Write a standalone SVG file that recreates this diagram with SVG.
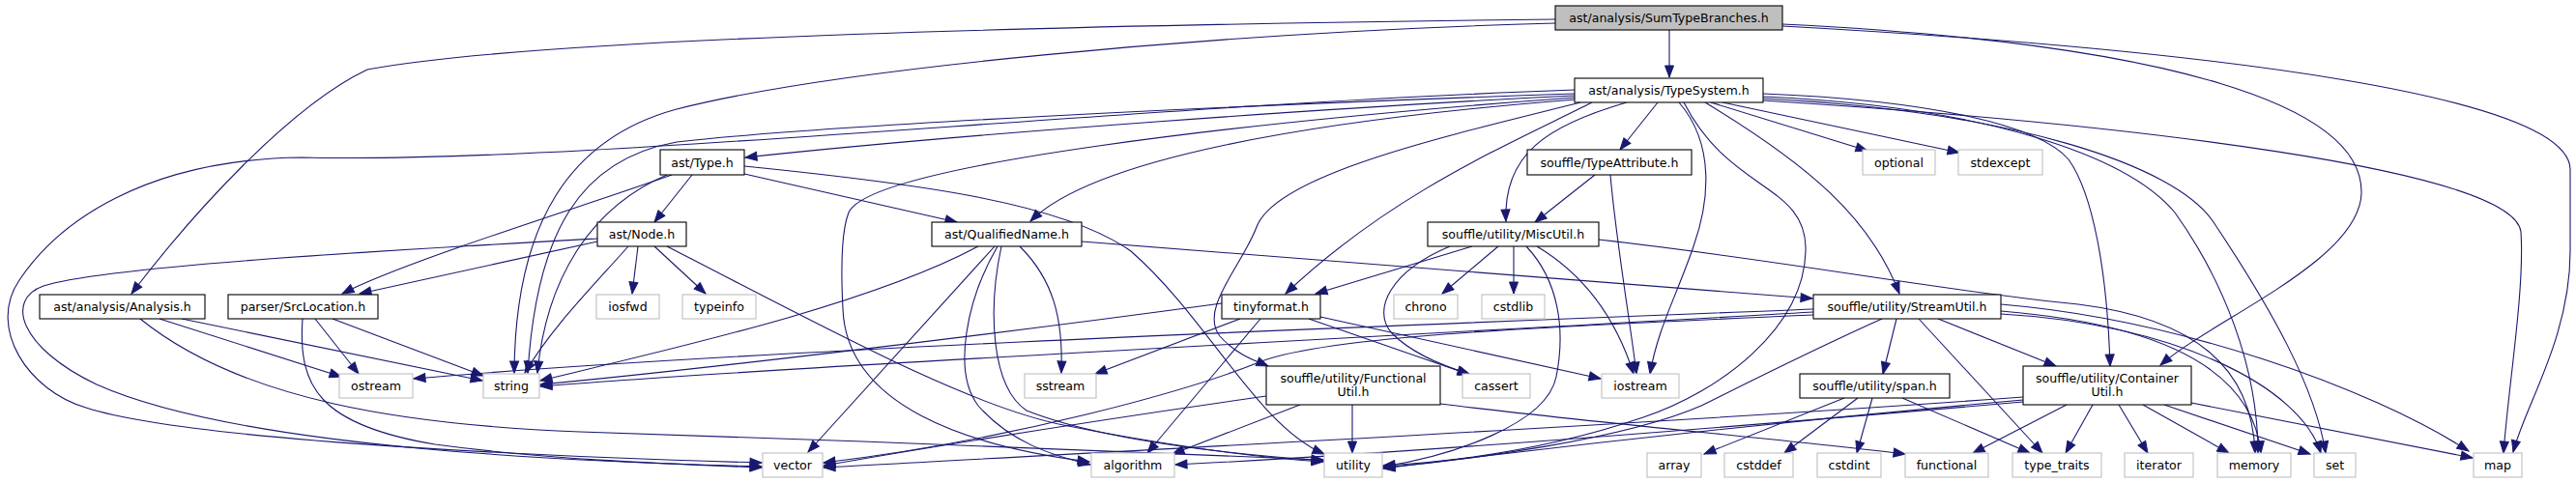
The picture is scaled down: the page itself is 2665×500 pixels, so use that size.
<svg xmlns="http://www.w3.org/2000/svg" width="2665" height="500" viewBox="0 0 2665 500">
<style>
.e{fill:none;stroke:#191970;stroke-width:1.1;marker-end:url(#a)}
.n{fill:#fff;stroke:#000;stroke-width:1.1}
.g{fill:#fff;stroke:#bfbfbf;stroke-width:1.1}
.m{fill:#bfbfbf;stroke:#000;stroke-width:1.1}
text{font-family:"DejaVu Sans","Liberation Sans",sans-serif;font-size:12.6px;text-anchor:middle;fill:#000}
</style>
<defs>
<marker id="a" markerUnits="userSpaceOnUse" markerWidth="14" markerHeight="10" refX="12" refY="5" orient="auto" overflow="visible">
<path d="M0,0.5 L12,5 L0,9.5 z" fill="#191970" stroke="#191970" stroke-width="1"/>
</marker>
</defs>
<rect width="2665" height="500" fill="#fff"/>
<g id="connectors">
<path class="e" d="M1727,31 L1727,80"/>
<path class="e" d="M1609,20 C1100,26 550,40 380,72 C300,110 200,220 136,304"/>
<path class="e" d="M1609,24 C1250,34 860,72 700,113 C590,143 533,230 532,386"/>
<path class="e" d="M1844,25 C2250,45 2445,110 2443,200 C2441,270 2290,330 2235,378"/>
<path class="e" d="M1844,27 C2300,52 2657,100 2659,175 L2659,260 C2659,350 2612,420 2600,468"/>
<path class="e" d="M1629,93 C1150,110 600,170 312,163 C150,165 60,230 20,290 C-14,340 30,405 89,422 C200,458 600,474 788,479"/>
<path class="e" d="M618,247 C420,258 110,275 45,296 C5,310 20,360 100,398 C250,465 600,478 788,483"/>
<path class="e" d="M1629,99 C1400,110 1000,138 771,163"/>
<path class="e" d="M1630,103 C1350,125 1130,165 1066,229"/>
<path class="e" d="M1629,97 C1250,110 850,130 700,147 C600,165 555,240 546,386"/>
<path class="e" d="M1629,101 C1300,125 900,170 878,220 C868,245 871,300 872,320 C876,420 1000,462 1127,478"/>
<path class="e" d="M1635,106 C1500,140 1320,180 1300,235 C1285,275 1240,320 1262,348 C1280,368 1300,374 1312,379"/>
<path class="e" d="M1647,106 C1560,150 1440,200 1330,304"/>
<path class="e" d="M1683,106 C1600,130 1555,160 1558,229"/>
<path class="e" d="M1715,106 L1676,155"/>
<path class="e" d="M1737,106 C1775,150 1768,210 1752,255 C1735,305 1715,340 1707,387"/>
<path class="e" d="M1742,106 C1790,200 1870,190 1868,260 C1866,340 1780,405 1700,432 C1600,466 1500,478 1431,482"/>
<path class="e" d="M1764,106 C1870,170 1935,225 1965,304"/>
<path class="e" d="M1770,106 L1932,156"/>
<path class="e" d="M1782,106 L2027,158"/>
<path class="e" d="M1824,97 C2000,104 2110,130 2140,165 C2165,200 2180,280 2183,379"/>
<path class="e" d="M1824,100 C2050,110 2200,160 2250,220 C2300,290 2336,380 2336,469"/>
<path class="e" d="M1824,102 C2080,115 2250,170 2290,230 C2350,320 2395,400 2406,469"/>
<path class="e" d="M1824,104 C2200,128 2600,175 2608,240 C2612,300 2595,400 2590,469"/>
<path class="e" d="M716,181 L677,230"/>
<path class="e" d="M770,180 L990,230"/>
<path class="e" d="M695,181 C600,215 420,270 354,304"/>
<path class="e" d="M690,181 C610,215 565,290 556,386"/>
<path class="e" d="M770,172 C950,190 1100,210 1170,260 C1250,330 1300,440 1370,470"/>
<path class="e" d="M618,250 L372,304"/>
<path class="e" d="M660,255 L654,304"/>
<path class="e" d="M677,255 L730,304"/>
<path class="e" d="M650,255 C610,300 570,340 543,386"/>
<path class="e" d="M690,255 C850,337 1000,420 1100,440 C1200,460 1300,474 1369,478"/>
<path class="e" d="M1012,255 C900,315 700,360 559,394"/>
<path class="e" d="M1029,255 L836,468"/>
<path class="e" d="M1032,255 C1000,310 985,385 1012,420 C1045,458 1090,472 1128,481"/>
<path class="e" d="M1036,255 C1022,320 1025,400 1062,425 C1150,460 1300,472 1369,477"/>
<path class="e" d="M1055,255 C1090,290 1100,330 1098,386"/>
<path class="e" d="M1119,250 L1875,309"/>
<path class="e" d="M1523,255 L1361,304"/>
<path class="e" d="M1500,255 C1440,280 1418,320 1440,345 C1460,365 1490,378 1520,387"/>
<path class="e" d="M1550,255 L1492,304"/>
<path class="e" d="M1566,255 L1566,304"/>
<path class="e" d="M1579,255 C1612,290 1620,340 1610,390 C1600,440 1500,472 1431,483"/>
<path class="e" d="M1590,255 C1640,285 1672,330 1690,387"/>
<path class="e" d="M1654,248 C1850,270 2000,300 2150,315 C2270,330 2330,380 2333,469"/>
<path class="e" d="M1650,181 L1588,230"/>
<path class="e" d="M1666,181 C1672,250 1686,330 1693,387"/>
<path class="e" d="M165,330 L353,390"/>
<path class="e" d="M188,330 L499,394"/>
<path class="e" d="M145,330 C250,415 420,440 600,447 C850,455 1200,468 1369,476"/>
<path class="e" d="M326,330 L371,387"/>
<path class="e" d="M344,330 L500,389"/>
<path class="e" d="M313,330 C308,400 330,440 450,460 C560,475 680,480 788,484"/>
<path class="e" d="M1264,314 C1000,350 700,385 559,398"/>
<path class="e" d="M1283,330 L1133,387"/>
<path class="e" d="M1304,330 L1187,469"/>
<path class="e" d="M1354,330 L1521,388"/>
<path class="e" d="M1366,328 L1656,392"/>
<path class="e" d="M1876,320 C1500,335 800,360 428,392"/>
<path class="e" d="M1876,323 C1500,345 800,380 559,400"/>
<path class="e" d="M1876,326 C1550,340 1360,350 1300,376 C1230,404 1050,455 852,479"/>
<path class="e" d="M1947,330 C1880,360 1830,385 1760,420 C1680,455 1520,476 1431,484"/>
<path class="e" d="M1962,330 L1948,387"/>
<path class="e" d="M1985,330 L2113,469"/>
<path class="e" d="M2005,330 L2127,379"/>
<path class="e" d="M2070,322 C2230,335 2330,380 2339,469"/>
<path class="e" d="M2070,325 C2250,335 2380,400 2401,469"/>
<path class="e" d="M2070,315 C2250,330 2450,400 2554,467"/>
<path class="e" d="M1908,412 L1763,470"/>
<path class="e" d="M1922,412 L1846,469"/>
<path class="e" d="M1937,412 L1921,469"/>
<path class="e" d="M1968,412 L2100,469"/>
<path class="e" d="M1399,419 L1399,469"/>
<path class="e" d="M1490,418 C1650,438 1850,455 1971,470"/>
<path class="e" d="M1310,410 C1100,440 950,465 852,482"/>
<path class="e" d="M1345,419 L1213,470"/>
<path class="e" d="M2138,419 L2041,469"/>
<path class="e" d="M2165,419 L2137,469"/>
<path class="e" d="M2192,419 L2222,469"/>
<path class="e" d="M2217,419 L2306,469"/>
<path class="e" d="M2239,419 L2390,470"/>
<path class="e" d="M2267,417 L2558,474"/>
<path class="e" d="M2093,411 C1700,440 1100,470 852,484"/>
<path class="e" d="M2093,414 C1800,440 1550,470 1431,485"/>
<path class="e" d="M2093,416 C1700,450 1400,472 1216,481"/>
</g>
<g id="n_SumTypeBranches"><rect class="m" x="1609" y="6" width="235" height="25"/><text x="1726.5" y="23">ast/analysis/SumTypeBranches.h</text></g>
<g id="n_TypeSystem"><rect class="n" x="1629" y="81" width="195" height="25"/><text x="1726.5" y="98">ast/analysis/TypeSystem.h</text></g>
<g id="n_Type"><rect class="n" x="683" y="155" width="87" height="26"/><text x="726.5" y="172.5">ast/Type.h</text></g>
<g id="n_TypeAttribute"><rect class="n" x="1580" y="155" width="170" height="26"/><text x="1665" y="172.5">souffle/TypeAttribute.h</text></g>
<g id="n_optional"><rect class="g" x="1927" y="155" width="75" height="26"/><text x="1964.5" y="172.5">optional</text></g>
<g id="n_stdexcept"><rect class="g" x="2026" y="155" width="87" height="26"/><text x="2069.5" y="172.5">stdexcept</text></g>
<g id="n_Node"><rect class="n" x="618" y="230" width="92" height="25"/><text x="664" y="247">ast/Node.h</text></g>
<g id="n_QualifiedName"><rect class="n" x="964" y="230" width="155" height="25"/><text x="1041.5" y="247">ast/QualifiedName.h</text></g>
<g id="n_MiscUtil"><rect class="n" x="1477" y="230" width="177" height="25"/><text x="1565.5" y="247">souffle/utility/MiscUtil.h</text></g>
<g id="n_Analysis"><rect class="n" x="41" y="305" width="171" height="25"/><text x="126.5" y="322">ast/analysis/Analysis.h</text></g>
<g id="n_SrcLocation"><rect class="n" x="236" y="305" width="155" height="25"/><text x="313.5" y="322">parser/SrcLocation.h</text></g>
<g id="n_iosfwd"><rect class="g" x="617" y="305" width="65" height="25"/><text x="649.5" y="322">iosfwd</text></g>
<g id="n_typeinfo"><rect class="g" x="706" y="305" width="76" height="25"/><text x="744" y="322">typeinfo</text></g>
<g id="n_tinyformat"><rect class="n" x="1264" y="305" width="102" height="25"/><text x="1315" y="322">tinyformat.h</text></g>
<g id="n_chrono"><rect class="g" x="1442" y="305" width="66" height="25"/><text x="1475" y="322">chrono</text></g>
<g id="n_cstdlib"><rect class="g" x="1533" y="305" width="65" height="25"/><text x="1565.5" y="322">cstdlib</text></g>
<g id="n_StreamUtil"><rect class="n" x="1876" y="305" width="194" height="25"/><text x="1973" y="322">souffle/utility/StreamUtil.h</text></g>
<g id="n_ostream"><rect class="g" x="351" y="387" width="76" height="25"/><text x="389" y="404">ostream</text></g>
<g id="n_string"><rect class="g" x="500" y="387" width="58" height="25"/><text x="529" y="404">string</text></g>
<g id="n_sstream"><rect class="g" x="1060" y="387" width="74" height="25"/><text x="1097" y="404">sstream</text></g>
<g id="n_FunctionalUtil"><rect class="n" x="1310" y="379" width="180" height="40"/><text x="1400" y="396">souffle/utility/Functional</text><text x="1400" y="410">Util.h</text></g>
<g id="n_cassert"><rect class="g" x="1513" y="387" width="70" height="25"/><text x="1548" y="404">cassert</text></g>
<g id="n_iostream"><rect class="g" x="1657" y="387" width="80" height="25"/><text x="1697" y="404">iostream</text></g>
<g id="n_span"><rect class="n" x="1862" y="387" width="155" height="25"/><text x="1939.5" y="404">souffle/utility/span.h</text></g>
<g id="n_ContainerUtil"><rect class="n" x="2093" y="379" width="174" height="40"/><text x="2180" y="396">souffle/utility/Container</text><text x="2180" y="410">Util.h</text></g>
<g id="n_vector"><rect class="g" x="789" y="469" width="62" height="25"/><text x="820" y="486">vector</text></g>
<g id="n_algorithm"><rect class="g" x="1129" y="469" width="86" height="25"/><text x="1172" y="486">algorithm</text></g>
<g id="n_utility"><rect class="g" x="1370" y="469" width="60" height="25"/><text x="1400" y="486">utility</text></g>
<g id="n_array"><rect class="g" x="1704" y="469" width="56" height="25"/><text x="1732" y="486">array</text></g>
<g id="n_cstddef"><rect class="g" x="1784" y="469" width="71" height="25"/><text x="1819.5" y="486">cstddef</text></g>
<g id="n_cstdint"><rect class="g" x="1880" y="469" width="66" height="25"/><text x="1913" y="486">cstdint</text></g>
<g id="n_functional"><rect class="g" x="1971" y="469" width="86" height="25"/><text x="2014" y="486">functional</text></g>
<g id="n_type_traits"><rect class="g" x="2082" y="469" width="92" height="25"/><text x="2128" y="486">type_traits</text></g>
<g id="n_iterator"><rect class="g" x="2198" y="469" width="71" height="25"/><text x="2233.5" y="486">iterator</text></g>
<g id="n_memory"><rect class="g" x="2294" y="469" width="76" height="25"/><text x="2332" y="486">memory</text></g>
<g id="n_set"><rect class="g" x="2394" y="469" width="43" height="25"/><text x="2415.5" y="486">set</text></g>
<g id="n_map"><rect class="g" x="2559" y="469" width="50" height="25"/><text x="2584" y="486">map</text></g>
</svg>
